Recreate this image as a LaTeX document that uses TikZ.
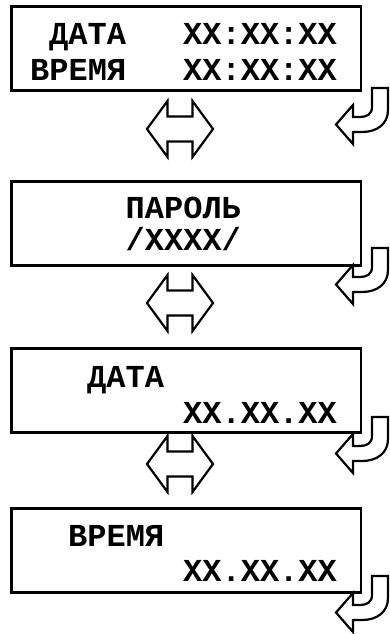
\documentclass[tikz,border=0pt]{standalone}
\usepackage{fontspec}
\newfontfamily\lcdfont{Liberation Mono}
\usepackage{tikz}

\tikzset{
  screen/.style={draw, line width=2.6pt, minimum width=349.5pt, minimum height=84pt,
    inner sep=0pt, anchor=north west},
  lcdtext/.style={anchor=base west, inner sep=0pt,
    font=\lcdfont\bfseries\fontsize{32}{32}\selectfont},
  outline/.style={draw, line width=2.2pt, line join=miter, fill=white},
  % two-way arrow between screens
  scrollarrow/.pic={
    \draw[outline] (-33,0) -- (-12.5,-28) -- (-12.5,-12.5) -- (12.5,-12.5) -- (12.5,-28)
      -- (33,0) -- (12.5,28) -- (12.5,12.5) -- (-12.5,12.5) -- (-12.5,28) -- cycle;
  },
  % hooked arrow at the right of each screen
  enterarrow/.pic={
    \draw[outline] (0,0) -- (16,0) -- (16,22) .. controls (16,36) and (5,44) .. (-10,44)
      -- (-19,44) -- (-19,56) -- (-36,36.5) -- (-19,17) -- (-19,29) -- (-12,29)
      .. controls (-5,29) and (0,26) .. (0,19) -- cycle;
  },
}

\begin{document}
\begin{tikzpicture}[x=1pt, y=-1pt]
  \useasboundingbox (0,0) rectangle (389,634);

  % screens
  \node[screen] (clock) at (10,5) {};
  \node[screen] (passwd) at (10,180) {};
  \node[screen] (setdate) at (10,347) {};
  \node[screen] (settime) at (10,507) {};

  % screen texts
  \node[lcdtext] (clockdate) at (49,45) {ДАТА};
  \node[lcdtext] (clockdatev) at (183,45) {XX:XX:XX};
  \node[lcdtext] (clocktime) at (30,80) {ВРЕМЯ};
  \node[lcdtext] (clocktimev) at (183,80) {XX:XX:XX};

  \node[lcdtext] (passwdlbl) at (125.5,218) {ПАРОЛЬ};
  \node[lcdtext] (passwdval) at (125.5,250) {/XXXX/};

  \node[lcdtext] (datelbl) at (87,387) {ДАТА};
  \node[lcdtext] (dateval) at (183,423) {XX.XX.XX};

  \node[lcdtext] (timelbl) at (68,546) {ВРЕМЯ};
  \node[lcdtext] (timeval) at (183,581) {XX.XX.XX};

  % arrows
  \foreach \cy in {129,303,464}
    \pic at (180,\cy) {scrollarrow};
  \foreach \yo in {88,248,417,576}
    \pic at (372,\yo) {enterarrow};
\end{tikzpicture}
\end{document}
